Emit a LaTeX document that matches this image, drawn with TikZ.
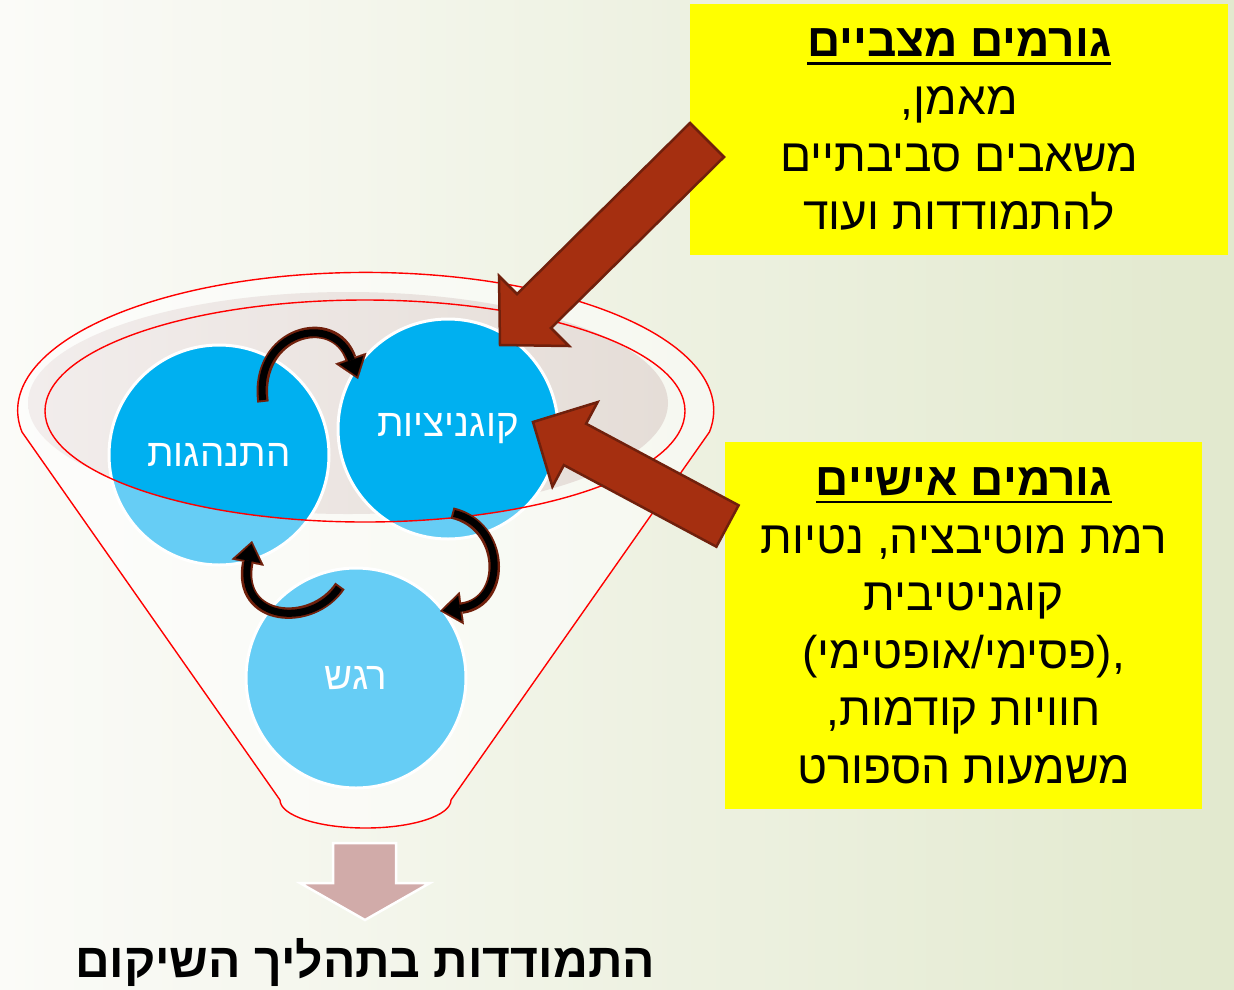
\documentclass[tikz,border=0pt]{standalone}
\usepackage{fontspec}
\setmainfont{Liberation Sans}
\newfontfamily\heb[Script=Hebrew]{Liberation Sans}
\newfontfamily\latn{Liberation Sans}
\usetikzlibrary{arrows.meta}
\TeXXeTstate=1
\definecolor{bgL}{RGB}{251,251,248}
\definecolor{bgM}{RGB}{243,245,236}
\definecolor{bgR}{RGB}{226,233,206}
\definecolor{darkblue}{RGB}{0,176,240}
\definecolor{lightblue}{RGB}{102,205,245}
\definecolor{taupeL}{RGB}{242,237,236}
\definecolor{taupeR}{RGB}{229,221,215}
\definecolor{rust}{RGB}{165,47,16}
\definecolor{rustdark}{RGB}{112,32,12}
\definecolor{pinkarrow}{RGB}{209,171,169}
\definecolor{yel}{RGB}{255,255,0}
\definecolor{funnelred}{RGB}{255,0,0}
\newcommand\RL[1]{\beginR #1\endR}
\newcommand\ulbox[1]{\vtop{\hbox{#1}\kern5pt\hrule height 2.6pt}}
\begin{document}
\begin{tikzpicture}[x=1pt,y=-1pt,
  bubble/.style={circle, minimum size=220pt, inner sep=0pt},
  bubbletext/.style={text=white, font=\heb\fontsize{38.5}{42}\selectfont},
  ybox/.style={fill=yel, anchor=north west, inner sep=0pt, align=center,
    font=\heb\fontsize{46}{57.5}\selectfont},
  blockarrow/.style={fill=rust, draw=rustdark, line width=2.5pt, line join=miter},
  curvout/.style={draw=rustdark, line width=11.5pt, -{Triangle[length=22pt,width=33pt,line width=0.1pt]}},
  curvin/.style={draw=black, line width=7pt, shorten >=3pt, shorten <=2pt, -{Triangle[length=17pt,width=25pt,line width=0.1pt]}},
  redline/.style={draw=funnelred, line width=1.4pt}]
\useasboundingbox (0,0) rectangle (1234,989);
% background
\shade[left color=bgL, middle color=bgM, right color=bgR] (0,0) rectangle (1234,989);
% funnel
\path[fill=white, fill opacity=0.55] (22,432) arc[start angle=189, end angle=-9, x radius=348pt, y radius=138pt]
  -- (451,800) arc[start angle=0, end angle=-180, x radius=85.5pt, y radius=28pt] -- cycle;
\shade[left color=taupeL, right color=taupeR] (348,403) ellipse[x radius=320pt, y radius=111pt];
\draw[redline] (22,432) arc[start angle=189, end angle=-9, x radius=348pt, y radius=138pt]
  -- (451,800) arc[start angle=0, end angle=-180, x radius=85.5pt, y radius=28pt] -- cycle;
% circles
\node[bubble, fill=lightblue] (beh) at (219,455) {};
\node[bubble, fill=lightblue] (cog) at (448,429) {};
\node[bubble, fill=lightblue] (emo) at (356,678) {};
\begin{scope}
  \clip (365,411) ellipse[x radius=320pt, y radius=111pt];
  \fill[darkblue] (beh.center) circle[radius=110pt];
  \fill[darkblue] (cog.center) circle[radius=110pt];
\end{scope}
\draw[white, line width=3pt] (beh.center) circle[radius=110pt];
\draw[white, line width=3pt] (cog.center) circle[radius=110pt];
\draw[white, line width=3pt] (emo.center) circle[radius=110pt];
\node[bubbletext] (behT) at (beh.center) {\RL{התנהגות}};
\node[bubbletext] (cogT) at (cog.center) {\RL{קוגניציות}};
\node[bubbletext] (emoT) at (emo.center) {\RL{רגש}};
\draw[redline] (365,411) ellipse[x radius=320pt, y radius=111pt];
% curved arrows
\coordinate (a1s) at (263,402); \coordinate (a1e) at (358,379);
\coordinate (a2s) at (452,513); \coordinate (a2e) at (440,611);
\coordinate (a3s) at (340,586); \coordinate (a3e) at (252,541);
\draw[curvout] (a1s) .. controls (254,332) and (334,310) .. (a1e);
\draw[curvin]  (a1s) .. controls (254,332) and (334,310) .. (a1e);
\draw[curvout] (a2s) .. controls (505,525) and (508,602) .. (a2e);
\draw[curvin]  (a2s) .. controls (505,525) and (508,602) .. (a2e);
\draw[curvout] (a3s) .. controls (312,628) and (236,622) .. (a3e);
\draw[curvin]  (a3s) .. controls (312,628) and (236,622) .. (a3e);
% yellow boxes
\node[ybox, minimum width=538pt, minimum height=251pt] (sit) at (690,4)
  {\ulbox{\bfseries\RL{גורמים מצביים}}\\ \RL{מאמן,}\\ \RL{משאבים סביבתיים}\\ \RL{להתמודדות ועוד}};
\node[ybox, minimum width=477pt, minimum height=367pt] (pers) at (725,442)
  {\ulbox{\bfseries\RL{גורמים אישיים}}\\ \RL{רמת מוטיבציה, נטיות}\\ \RL{קוגניטיבית}\\ {\latn(}\RL{אופטימי}{\latn/}\RL{פסימי}{\latn),}\\ \RL{חוויות קודמות,}\\ \RL{משמעות הספורט}};
% block arrows
\draw[blockarrow] (690,123) -- (517,294) -- (499,276) -- (500,345) -- (569,346) -- (551,328) -- (724,157) -- cycle;
\draw[blockarrow] (738.6,505.3) -- (586.1,423.7) -- (597.6,402.1) -- (533,422) -- (552.4,486.7) -- (563.9,465.1) -- (716.4,546.7) -- cycle;
% bottom arrow and result
\draw[fill=pinkarrow, draw=white, line width=2.5pt] (333,843) -- (396,843) -- (396,883) -- (430,883) -- (365,920) -- (300,883) -- (333,883) -- cycle;
\node[font=\heb\bfseries\fontsize{48}{52}\selectfont] (res) at (365,962) {\RL{התמודדות בתהליך השיקום}};
\end{tikzpicture}
\end{document}
